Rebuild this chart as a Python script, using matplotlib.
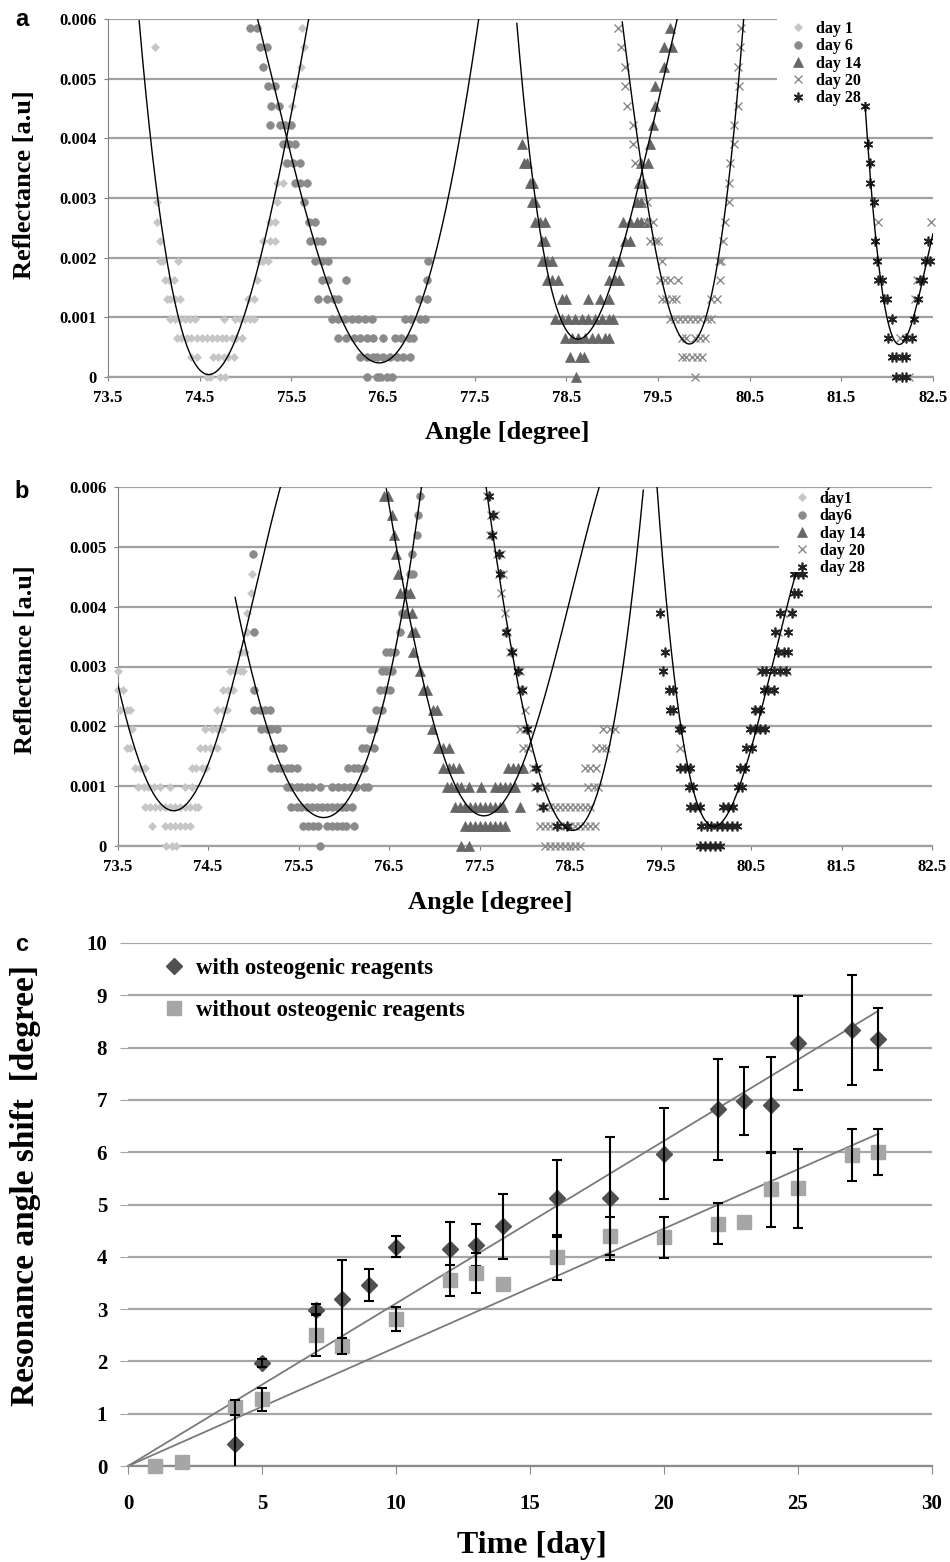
import numpy as np
import matplotlib.pyplot as plt
from matplotlib.lines import Line2D
from matplotlib.patches import Rectangle

plt.rcParams['font.family'] = ['Liberation Serif', 'DejaVu Serif']
plt.rcParams['font.weight'] = 'bold'

W, H = 950, 1562

# ---- axes of the SPR panels (a, b) ----
angle_ticks = [73.5, 74.5, 75.5, 76.5, 77.5, 78.5, 79.5, 80.5, 81.5, 82.5]
refl_ticks = [0, 0.001, 0.002, 0.003, 0.004, 0.005, 0.006]
refl_labels = ['0', '0.001', '0.002', '0.003', '0.004', '0.005', '0.006']
labels_a = ['day 1', 'day 6', 'day 14', 'day 20', 'day 28']
labels_b = ['day1', 'day6', 'day 14', 'day 20', 'day 28']

# ---- panel a: reflectance level -> measured angles ----
a_day1 = {0.00585: [75.62], 0.00553: [74.01, 75.64], 0.0052: [75.61], 0.00488: [75.54],
          0.00455: [75.51], 0.00423: [75.47], 0.0039: [75.45], 0.00358: [75.43],
          0.00325: [75.34, 75.41], 0.00293: [74.03, 75.34], 0.0026: [74.03, 75.27, 75.32],
          0.00228: [74.07, 75.19, 75.27, 75.32],
          0.00195: [74.07, 74.10, 74.26, 75.16, 75.19, 75.25],
          0.00163: [74.12, 74.16, 74.22, 75.12],
          0.0013: [74.14, 74.18, 74.23, 74.29, 75.03, 75.09],
          0.00098: [74.18, 74.23, 74.29, 74.34, 74.39, 74.45, 74.76, 74.89, 74.94, 74.99, 75.05, 75.09],
          0.00065: [74.25, 74.30, 74.36, 74.41, 74.47, 74.52, 74.58, 74.63, 74.69, 74.74, 74.79,
                    74.85, 74.90, 74.96],
          0.00033: [74.41, 74.47, 74.65, 74.70, 74.76, 74.81, 74.87],
          0.0: [74.58, 74.61, 74.72, 74.78]}
a_day6 = {0.00585: [75.05, 75.12], 0.00553: [75.16, 75.23], 0.0052: [75.19], 0.00488: [75.25, 75.32],
          0.00455: [75.28, 75.36], 0.00423: [75.27, 75.38, 75.43, 75.50], 0.0039: [75.41, 75.47, 75.54],
          0.00358: [75.45, 75.52, 75.59], 0.00325: [75.54, 75.59, 75.67], 0.00293: [75.64],
          0.0026: [75.69, 75.76], 0.00228: [75.70, 75.78, 75.83],
          0.00195: [75.76, 75.83, 75.90, 76.99], 0.00163: [75.83, 75.90, 76.10, 76.98],
          0.0013: [75.79, 75.89, 75.96, 76.01, 76.89, 76.98],
          0.00098: [75.94, 76.01, 76.09, 76.16, 76.23, 76.30, 76.38, 76.74, 76.81, 76.90, 76.96],
          0.00065: [76.01, 76.10, 76.18, 76.25, 76.32, 76.39, 76.50, 76.63, 76.70, 76.78, 76.83],
          0.00033: [76.25, 76.32, 76.39, 76.43, 76.50, 76.58, 76.65, 76.72, 76.79],
          0.0: [76.32, 76.43, 76.47, 76.54, 76.60]}
a_day14 = {0.00585: [79.63], 0.00553: [79.56, 79.65], 0.0052: [79.56], 0.00488: [79.47],
           0.00455: [79.47], 0.00423: [79.45], 0.0039: [78.02, 79.41],
           0.00358: [78.04, 78.07, 79.32, 79.39], 0.00325: [78.10, 78.14, 79.29, 79.34],
           0.00293: [78.13, 78.16, 79.27, 79.32],
           0.0026: [78.16, 78.21, 78.27, 79.12, 79.19, 79.27, 79.32, 79.38],
           0.00228: [78.23, 78.27, 79.14, 79.19], 0.00195: [78.23, 78.29, 78.34, 79.01, 79.07],
           0.00163: [78.29, 78.34, 78.41, 78.96, 79.03, 79.07],
           0.0013: [78.45, 78.50, 78.74, 78.87, 78.96],
           0.00098: [78.38, 78.45, 78.52, 78.59, 78.67, 78.74, 78.81, 78.89, 78.96, 79.01],
           0.00065: [78.49, 78.56, 78.63, 78.70, 78.78, 78.85, 78.92, 78.96],
           0.00033: [78.54, 78.65, 78.69], 0.0: [78.61]}
a_day20 = {0.00585: [79.06, 80.40], 0.00553: [79.10, 80.39], 0.0052: [79.14, 80.37],
           0.00488: [79.14, 80.38], 0.00455: [79.16, 80.37], 0.00423: [79.23, 80.33],
           0.0039: [79.23, 80.33], 0.00358: [79.25, 80.29], 0.00325: [79.32, 80.27],
           0.00293: [79.38, 80.27], 0.0026: [79.38, 79.45, 80.23, 81.90, 82.48],
           0.00228: [79.41, 79.47, 79.50, 80.21], 0.00195: [79.54, 80.16, 80.19],
           0.00163: [79.52, 79.58, 79.63, 79.72, 80.18, 82.33],
           0.0013: [79.54, 79.59, 79.65, 79.70, 80.08, 80.14, 82.30],
           0.00098: [79.63, 79.69, 79.74, 79.79, 79.85, 79.90, 79.96, 80.03, 80.08],
           0.00065: [79.76, 79.81, 79.90, 79.96, 80.01, 82.14],
           0.00033: [79.76, 79.81, 79.87, 79.92, 79.98], 0.0: [79.90, 82.24]}
a_day28 = {0.00455: [81.76], 0.0039: [81.79], 0.00358: [81.81], 0.00325: [81.81], 0.00293: [81.86],
           0.00228: [81.87, 82.45], 0.00195: [81.89, 82.41, 82.47],
           0.00163: [81.90, 81.94, 82.36, 82.39], 0.0013: [81.96, 82.00, 82.34],
           0.00098: [82.05, 82.29], 0.00065: [82.01, 82.21, 82.27],
           0.00033: [82.05, 82.10, 82.16, 82.21], 0.0: [82.10, 82.16, 82.21]}

# polynomial trendlines of panel a, read as (angle, reflectance) along each curve
a_fit1 = [(73.84, 0.006), (73.96, 0.004), (74.04, 0.003), (74.16, 0.002), (74.24, 0.001),
          (74.65, 0.00017), (75.01, 0.001), (75.16, 0.002), (75.30, 0.003), (75.45, 0.004), (75.69, 0.006)]
a_fit6 = [(75.13, 0.006), (75.46, 0.004), (75.78, 0.002), (76.05, 0.001), (76.50, 0.00034),
          (76.87, 0.001), (77.09, 0.002), (77.31, 0.004), (77.55, 0.006)]
a_fit14 = [(77.96, 0.006), (78.07, 0.004), (78.27, 0.002), (78.45, 0.001), (78.65, 0.00061),
           (78.87, 0.001), (79.07, 0.002), (79.41, 0.004), (79.71, 0.006)]
a_fit20 = [(79.11, 0.006), (79.27, 0.004), (79.36, 0.003), (79.52, 0.002), (79.65, 0.001),
           (79.79, 0.00056), (80.03, 0.001), (80.18, 0.002), (80.30, 0.004), (80.44, 0.006)]
a_fit28 = [(81.76, 0.00455), (81.79, 0.0039), (81.83, 0.003), (81.90, 0.002), (82.01, 0.001),
           (82.12, 0.00046), (82.28, 0.001), (82.39, 0.00164), (82.50, 0.0024)]

# ---- panel b ----
b_day1 = {0.00455: [74.99], 0.00423: [74.97], 0.0039: [74.93], 0.00358: [74.93],
          0.00325: [74.87, 74.91], 0.00293: [73.51, 74.74, 74.80, 74.85, 74.89],
          0.0026: [73.51, 73.56, 74.67, 74.72, 74.78],
          0.00228: [73.53, 73.60, 73.64, 74.60, 74.67, 74.71],
          0.00195: [73.66, 74.47, 74.54, 74.60, 74.65],
          0.00163: [73.60, 73.64, 74.41, 74.47, 74.52, 74.60],
          0.0013: [73.69, 73.75, 73.80, 74.32, 74.37, 74.43, 74.48],
          0.00098: [73.73, 73.79, 73.84, 73.90, 73.97, 74.08, 74.25, 74.32],
          0.00065: [73.80, 73.86, 73.91, 73.97, 74.02, 74.08, 74.13, 74.19, 74.25, 74.30, 74.36, 74.39],
          0.00033: [73.88, 74.02, 74.08, 74.13, 74.19, 74.25, 74.30],
          0.0: [74.04, 74.10, 74.15]}
b_day6 = {0.00585: [76.84], 0.00553: [76.82], 0.0052: [76.81], 0.00488: [75.00, 76.75],
          0.00455: [76.73, 76.77], 0.00423: [76.69], 0.0039: [76.64], 0.00358: [75.01, 76.62],
          0.00325: [76.47, 76.51, 76.57], 0.00293: [76.42, 76.47, 76.53],
          0.0026: [75.01, 76.40, 76.46, 76.51], 0.00228: [75.01, 75.07, 75.13, 75.19, 76.36, 76.42],
          0.00195: [75.09, 75.15, 75.20, 75.26, 76.29, 76.33],
          0.00163: [75.22, 75.28, 75.33, 76.20, 76.25, 76.33],
          0.0013: [75.20, 75.26, 75.31, 75.37, 75.42, 75.48, 76.05, 76.11, 76.16, 76.22],
          0.00098: [75.37, 75.42, 75.48, 75.53, 75.59, 75.65, 75.74, 75.87, 75.94, 76.00, 76.07,
                    76.14, 76.22, 76.27],
          0.00065: [75.42, 75.48, 75.53, 75.59, 75.65, 75.70, 75.76, 75.81, 75.87, 75.92, 75.98,
                    76.03, 76.09],
          0.00033: [75.55, 75.61, 75.66, 75.72, 75.81, 75.87, 75.92, 75.98, 76.03, 76.11],
          0.0: [75.74]}
b_day14 = {0.00585: [76.44, 76.49], 0.00553: [76.53], 0.0052: [76.55], 0.00488: [76.58],
           0.00455: [76.60], 0.00423: [76.62, 76.68, 76.73], 0.0039: [76.69, 76.75],
           0.00358: [76.75, 76.79], 0.00325: [76.77], 0.00293: [76.84], 0.0026: [76.88, 76.92],
           0.00228: [76.99, 77.03], 0.00195: [76.97], 0.00163: [77.04, 77.10, 77.16],
           0.0013: [77.10, 77.16, 77.21, 77.27, 77.82, 77.87, 77.93, 77.98],
           0.00098: [77.14, 77.19, 77.25, 77.30, 77.38, 77.52, 77.67, 77.73, 77.78, 77.84, 77.89],
           0.00065: [77.23, 77.28, 77.34, 77.39, 77.45, 77.50, 77.56, 77.62, 77.67, 77.73, 77.76, 77.95],
           0.00033: [77.34, 77.39, 77.45, 77.50, 77.56, 77.62, 77.67, 77.73, 77.78],
           0.0: [77.30, 77.38]}
b_day20 = {0.00585: [77.58], 0.00553: [77.63, 77.67], 0.0052: [77.62, 77.65], 0.00488: [77.69, 77.74],
           0.00455: [77.71, 77.76], 0.00423: [77.74], 0.0039: [77.78, 80.85, 80.93],
           0.00358: [77.80, 80.80], 0.00325: [77.84, 77.87, 80.83],
           0.00293: [77.91, 77.95, 80.60, 80.90], 0.0026: [77.95, 77.98, 80.71],
           0.00228: [78.00, 80.57],
           0.00195: [77.95, 78.00, 78.04, 78.87, 78.94, 79.00, 80.52, 80.62],
           0.00163: [77.98, 78.04, 78.79, 78.85, 78.90, 79.72],
           0.0013: [78.09, 78.15, 78.67, 78.72, 78.79, 79.80],
           0.00098: [78.11, 78.17, 78.22, 78.70, 78.76, 78.81],
           0.00065: [78.17, 78.22, 78.28, 78.33, 78.39, 78.44, 78.50, 78.55, 78.61, 78.67, 78.72, 79.90],
           0.00033: [78.17, 78.22, 78.28, 78.33, 78.39, 78.44, 78.50, 78.55, 78.61, 78.67, 78.72, 78.78],
           0.0: [78.22, 78.28, 78.33, 78.39, 78.44, 78.50, 78.55, 78.61]}
b_day28 = {0.00585: [77.60], 0.00553: [77.65], 0.0052: [77.64], 0.00488: [77.72], 0.00455: [77.73,
           80.97, 81.02, 81.08], 0.00423: [80.97, 81.02], 0.0039: [79.49, 80.82, 80.95],
           0.00358: [77.79, 80.77, 80.91], 0.00325: [77.86, 79.55, 80.80, 80.86, 80.91],
           0.00293: [77.93, 79.53, 80.62, 80.67, 80.75, 80.82, 80.89],
           0.0026: [77.97, 79.59, 79.64, 80.64, 80.69, 80.75], 0.00228: [79.60, 79.64, 80.54, 80.60],
           0.00195: [78.02, 79.70, 79.73, 80.49, 80.54, 80.60, 80.65], 0.00163: [80.45, 80.51],
           0.0013: [78.12, 79.72, 79.77, 79.83, 80.38, 80.43], 0.00098: [78.13, 79.81, 79.86, 80.36, 80.40],
           0.00065: [78.20, 79.83, 79.88, 79.94, 80.19, 80.25, 80.30],
           0.00033: [78.36, 78.47, 79.95, 80.01, 80.06, 80.12, 80.18, 80.23, 80.29, 80.34],
           0.0: [79.94, 79.99, 80.05, 80.10, 80.16]}

b_fit1 = [(73.50, 0.00266), (73.66, 0.002), (73.80, 0.001), (74.08, 0.00059), (74.37, 0.001),
          (74.65, 0.002), (74.82, 0.003), (74.98, 0.004), (75.30, 0.006)]
b_fit6 = [(74.80, 0.00418), (74.96, 0.003), (75.15, 0.002), (75.42, 0.001), (75.79, 0.0005),
          (76.16, 0.001), (76.36, 0.002), (76.53, 0.003), (76.68, 0.0042), (76.86, 0.006)]
b_fit14 = [(76.47, 0.006), (76.68, 0.0042), (76.82, 0.003), (77.01, 0.002), (77.25, 0.001),
           (77.56, 0.00063), (77.89, 0.001), (78.08, 0.0016), (78.30, 0.003), (78.46, 0.004), (78.83, 0.006)]
b_fit20 = [(77.57, 0.006), (77.78, 0.004), (77.89, 0.003), (78.02, 0.002), (78.20, 0.001),
           (78.50, 0.00026), (78.81, 0.001), (78.98, 0.002), (79.18, 0.004), (79.31, 0.006)]
b_fit28 = [(79.46, 0.006), (79.57, 0.004), (79.64, 0.003), (79.73, 0.002), (79.86, 0.001),
           (80.12, 0.00016), (80.38, 0.001), (80.54, 0.002), (80.73, 0.003), (81.00, 0.0045), (81.36, 0.006)]

# ---- panel c: resonance angle shift vs time ----
days_with = [4, 5, 7, 8, 9, 10, 12, 13, 14, 16, 18, 20, 22, 23, 24, 25, 27, 28]
shift_with = [0.43, 1.97, 2.99, 3.19, 3.46, 4.19, 4.15, 4.23, 4.58, 5.12, 5.12, 5.97, 6.82, 6.98,
              6.90, 8.09, 8.33, 8.17]
err_with = [0.55, 0.07, 0.10, 0.75, 0.30, 0.20, 0.52, 0.40, 0.63, 0.74, 1.18, 0.87, 0.96, 0.65,
            0.92, 0.90, 1.05, 0.59]
days_without = [1, 2, 4, 5, 7, 8, 10, 12, 13, 14, 16, 18, 20, 22, 23, 24, 25, 27, 28]
shift_without = [0.0, 0.08, 1.12, 1.28, 2.50, 2.30, 2.81, 3.55, 3.69, 3.48, 3.99, 4.40, 4.37, 4.63,
                 4.66, 5.29, 5.31, 5.95, 6.01]
err_without = [0, 0, 0.15, 0.22, 0.40, 0.15, 0.23, 0.29, 0.39, 0, 0.43, 0.36, 0.40, 0.39, 0,
               0.72, 0.75, 0.50, 0.44]
time_ticks = [0, 5, 10, 15, 20, 25, 30]
shift_ticks = list(range(0, 11))

styles = [dict(marker='D', markersize=4, color='#c6c6c6', markeredgewidth=0.5),
          dict(marker='o', markersize=5.5, color='#8a8a8a', markeredgewidth=0.5),
          dict(marker='^', markersize=6.5, color='#666666', markeredgewidth=0.5),
          dict(marker='x', markersize=6, color='#8a8a8a', markeredgewidth=1.0),
          dict(marker=(6, 2, 0), markersize=7, color='#222222', markeredgewidth=1.2)]


def fx(px):
    return px / W


def fy(py):
    return 1 - py / H


def unpack(rows):
    x, y = [], []
    for level, angles in rows.items():
        x += angles
        y += [level] * len(angles)
    return np.array(x), np.array(y)


def trend(ax, pts):
    x = np.array([p[0] for p in pts])
    y = np.array([p[1] for p in pts])
    c = x.mean()
    coef = np.polyfit(x - c, y, 4)
    xs = np.linspace(x.min(), x.max(), 400)
    ax.plot(xs, np.polyval(coef, xs - c), color='black', lw=1.0, zorder=4)


def spr_panel(ax, series, fits, labels, cover_px, leg_px):
    for rows, st, lab in zip(series, styles, labels):
        x, y = unpack(rows)
        ax.plot(x, y, linestyle='none', label=lab, clip_on=False, zorder=3, **st)
    for f in fits:
        trend(ax, f)
    ax.set_xlim(73.5, 82.5)
    ax.set_ylim(0, 0.006)
    ax.set_xticks(angle_ticks)
    ax.set_xticklabels([f'{t:.1f}' for t in angle_ticks])
    ax.set_yticks(refl_ticks)
    ax.set_yticklabels(refl_labels)
    ax.grid(axis='y', color='#a0a0a0', lw=1.6)
    ax.set_axisbelow(True)
    for s in ['top', 'right']:
        ax.spines[s].set_visible(False)
    ax.spines['bottom'].set_color('#a0a0a0')
    ax.spines['bottom'].set_linewidth(1.6)
    ax.spines['left'].set_color('#808080')
    ax.tick_params(axis='x', length=3, color='#808080', pad=6.5, labelsize=12)
    ax.tick_params(axis='y', length=3, color='#808080', pad=5, labelsize=12)
    x0, y0, x1, y1 = cover_px
    fig.add_artist(Rectangle((fx(x0), fy(y1)), fx(x1) - fx(x0), fy(y0) - fy(y1),
                             transform=fig.transFigure, facecolor='white', edgecolor='none', zorder=1))
    leg = fig.legend(*ax.get_legend_handles_labels(), loc='upper left',
                     bbox_to_anchor=(fx(leg_px[0]), fy(leg_px[1])), bbox_transform=fig.transFigure,
                     frameon=False, borderpad=0, borderaxespad=0, handlelength=1.0,
                     handletextpad=0.6, labelspacing=0.08, fontsize=11.5, numpoints=1)
    leg.set_zorder(2)


fig = plt.figure(figsize=(W / 100, H / 100), dpi=100)

ax_a = fig.add_axes([fx(108), fy(377), fx(933) - fx(108), fy(19) - fy(377)])
spr_panel(ax_a, [a_day1, a_day6, a_day14, a_day20, a_day28],
          [a_fit1, a_fit6, a_fit14, a_fit20, a_fit28], labels_a,
          (777, 8, 945, 102), (790, 21))

ax_b = fig.add_axes([fx(117.5), fy(846), fx(932) - fx(117.5), fy(487) - fy(846)])
spr_panel(ax_b, [b_day1, b_day6, b_day14, b_day20, b_day28],
          [b_fit1, b_fit6, b_fit14, b_fit20, b_fit28], labels_b,
          (779, 490, 945, 572), (794, 491))

# ---- panel c ----
ax_c = fig.add_axes([fx(128), fy(1466), fx(932) - fx(128), fy(943) - fy(1466)])
dw, sw, ew = np.array(days_with), np.array(shift_with), np.array(err_with)
dn, sn, en = np.array(days_without), np.array(shift_without), np.array(err_without)
for d, s in [(dw, sw), (dn, sn)]:
    slope = np.sum(d * s) / np.sum(d * d)
    xs = np.array([0, d.max()])
    ax_c.plot(xs, slope * xs, color='#7a7a7a', lw=1.3, zorder=2)
ax_c.plot(dw, sw, linestyle='none', marker='D', markersize=8.5, color='#505050', zorder=3, clip_on=False)
m = ew > 0
ax_c.errorbar(dw[m], sw[m], yerr=ew[m], fmt='none', ecolor='black', elinewidth=1.5,
              capsize=3.5, capthick=1.5, zorder=4)
ax_c.plot(dn, sn, linestyle='none', marker='s', markersize=10, color='#a6a6a6', zorder=5, clip_on=False)
m = en > 0
ax_c.errorbar(dn[m], sn[m], yerr=en[m], fmt='none', ecolor='black', elinewidth=1.5,
              capsize=3.5, capthick=1.5, zorder=6)
ax_c.set_xlim(0, 30)
ax_c.set_ylim(0, 10)
ax_c.set_xticks(time_ticks)
ax_c.set_yticks(shift_ticks)
ax_c.grid(axis='y', color='#a6a6a6', lw=1.6)
ax_c.set_axisbelow(True)
for s in ['top', 'right', 'left']:
    ax_c.spines[s].set_visible(False)
ax_c.spines['bottom'].set_color('#8a8a8a')
ax_c.spines['bottom'].set_linewidth(1.6)
ax_c.tick_params(axis='x', length=6, color='#8a8a8a', pad=14, labelsize=15)
ax_c.tick_params(axis='y', length=6, color='#a6a6a6', pad=9, labelsize=15)
handles = [Line2D([], [], linestyle='none', marker='D', markersize=8.5, color='#505050'),
           Line2D([], [], linestyle='none', marker='s', markersize=10, color='#a6a6a6')]
ax_c.legend(handles, ['with osteogenic reagents', 'without osteogenic reagents'],
            loc='upper left', bbox_to_anchor=(fx(163), fy(958)), bbox_transform=fig.transFigure,
            frameon=False, borderpad=0, borderaxespad=0, handlelength=1.0, handletextpad=0.45,
            labelspacing=0.9, fontsize=16.5)

# ---- labels ----
fig.text(fx(25), fy(185), 'Reflectance [a.u]', rotation=90, ha='center', va='center', fontsize=19)
fig.text(fx(507), fy(432), 'Angle [degree]', ha='center', va='center', fontsize=19)
fig.text(fx(26), fy(660), 'Reflectance [a.u]', rotation=90, ha='center', va='center', fontsize=19)
fig.text(fx(490), fy(903), 'Angle [degree]', ha='center', va='center', fontsize=19)
fig.text(fx(26), fy(1185), 'Resonance angle shift  [degree]', rotation=90, ha='center', va='center',
         fontsize=24)
fig.text(fx(532), fy(1545), 'Time [day]', ha='center', va='center', fontsize=23)
for letter, py in [('a', 20), ('b', 492), ('c', 944)]:
    fig.text(fx(22), fy(py), letter, ha='center', va='center', fontsize=17,
             family=['Liberation Sans', 'DejaVu Sans'], weight='bold')

fig.savefig('out.png', dpi=100)
